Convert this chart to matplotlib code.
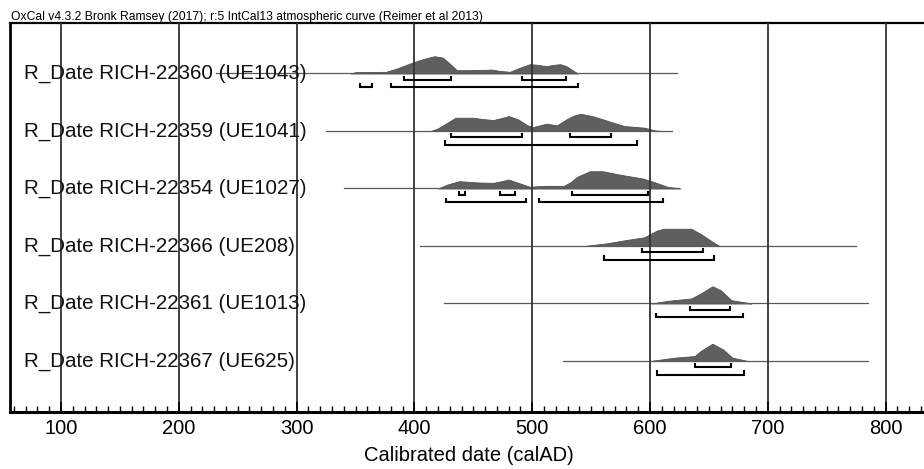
import matplotlib
matplotlib.use("Agg")
import matplotlib.pyplot as plt
from matplotlib.ticker import MultipleLocator

plt.rcParams["font.family"] = ["Liberation Sans", "DejaVu Sans"]

# sample labels, top to bottom
labels = [
    "R_Date RICH-22360 (UE1043)",
    "R_Date RICH-22359 (UE1041)",
    "R_Date RICH-22354 (UE1027)",
    "R_Date RICH-22366 (UE208)",
    "R_Date RICH-22361 (UE1013)",
    "R_Date RICH-22367 (UE625)",
]

# extent of the thin base line for each sample (calAD)
line_start = [232, 325, 340, 405, 425, 526]
line_end = [623, 619, 625, 775, 785, 785]

# probability outlines (year, relative height)
dist_years = [
    [346, 350, 376, 385, 400, 410, 417, 424, 430, 436, 445, 461, 465, 472, 481,
     490, 498, 505, 512, 518, 524, 529, 535, 539],
    [414, 420, 428, 435, 450, 458, 467, 475, 480, 488, 496, 501, 512, 521, 529,
     535, 541, 552, 569, 578, 595, 604, 609],
    [420, 428, 438, 455, 467, 474, 480, 490, 498, 505, 512, 527, 533, 538, 549,
     560, 574, 594, 603, 615, 626],
    [544, 564, 581, 595, 606, 612, 635, 643, 654, 659],
    [601, 615, 635, 643, 653, 660, 669, 683, 686],
    [600, 621, 638, 643, 653, 662, 670, 683],
]
dist_heights = [
    [0, 4, 5, 15, 35, 46, 52, 48, 30, 10, 10, 11, 12, 8, 5,
     18, 28, 26, 22, 26, 28, 22, 8, 0],
    [0, 8, 25, 40, 40, 36, 33, 40, 45, 35, 17, 12, 22, 17, 35,
     46, 52, 44, 25, 15, 10, 2, 0],
    [0, 12, 22, 18, 17, 22, 27, 15, 5, 7, 8, 8, 20, 35, 52,
     52, 42, 30, 20, 5, 0],
    [0, 8, 18, 25, 45, 50, 50, 35, 10, 0],
    [0, 8, 15, 30, 52, 40, 10, 2, 0],
    [0, 10, 15, 30, 52, 35, 10, 0],
]

# highest posterior density ranges
range_68 = [
    [(391, 431), (491, 529)],
    [(431, 491), (532, 567)],
    [(438, 443), (473, 485), (534, 598)],
    [(593, 645)],
    [(634, 668)],
    [(638, 669)],
]
range_95 = [
    [(354, 364), (380, 539)],
    [(426, 589)],
    [(427, 495), (506, 611)],
    [(561, 654)],
    [(605, 679)],
    [(606, 680)],
]

header = "OxCal v4.3.2 Bronk Ramsey (2017); r:5 IntCal13 atmospheric curve (Reimer et al 2013)"
x_label = "Calibrated date (calAD)"

W, H = 924, 469
fig = plt.figure(figsize=(W / 100, H / 100), dpi=100)
ax = fig.add_axes([10 / W, (H - 412) / H, (928 - 10) / W, (412 - 23) / H])

peak = 0.30   # tallest bump, in row units
off68, off95, hook = 0.11, 0.235, 0.055

for i, lab in enumerate(labels):
    ax.plot([line_start[i], line_end[i]], [i, i], color="#5a5a5a", lw=0.9, zorder=2)
    hmax = max(dist_heights[i])
    tops = [i - peak * h / hmax for h in dist_heights[i]]
    ax.fill_between(dist_years[i], tops, i, color="#5f5f5f", lw=0.6,
                    edgecolor="#505050", zorder=1)
    for off, spans in ((off68, range_68[i]), (off95, range_95[i])):
        y = i + off
        for a, b in spans:
            ax.plot([a, a, b, b], [y - hook, y, y, y - hook], color="black",
                    lw=1.5, solid_joinstyle="miter", zorder=3)
    ax.text(69, i, lab, fontsize=14.8, va="center", ha="left", color="#111111", zorder=4)

ax.set_xlim(56.7, 836)
ax.set_ylim(5.887, -0.878)
ax.set_xticks(range(100, 900, 100))
ax.xaxis.set_minor_locator(MultipleLocator(10))
ax.set_yticks([])
ax.tick_params(axis="x", which="major", direction="in", length=7, width=1.2,
               labelsize=14.5, pad=5)
ax.tick_params(axis="x", which="minor", direction="in", length=4, width=1)
ax.grid(True, axis="x", which="major", color="#333333", lw=1.3)
ax.set_axisbelow(False)

ax.spines["right"].set_visible(False)
ax.spines["left"].set_linewidth(2)
ax.spines["top"].set_linewidth(1.6)
ax.spines["bottom"].set_linewidth(2.2)

ax.set_xlabel(x_label, fontsize=14.5, labelpad=6)
fig.text(11 / W, 1 - 20 / H, header, fontsize=8.7, va="baseline", ha="left")

fig.savefig("out.png", dpi=100)
